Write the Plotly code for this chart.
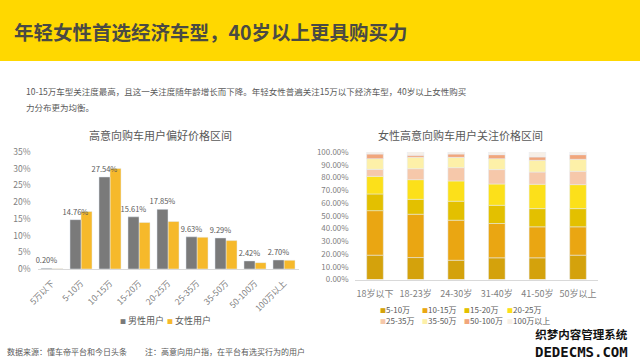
import numpy as np
import plotly.graph_objects as go

FONT = "Noto Sans CJK SC, Microsoft YaHei, sans-serif"
W, H = 640, 360

# ---------------- data ----------------
price_bins = ["5万以下", "5-10万", "10-15万", "15-20万", "20-25万",
              "25-35万", "35-50万", "50-100万", "100万以上"]
male_share = [0.20, 14.76, 27.54, 15.61, 17.85, 9.63, 9.29, 2.42, 2.70]
female_share = [0.10, 17.2, 30.1, 13.9, 14.2, 9.5, 8.5, 1.9, 2.6]
series_names = ["男性用户", "女性用户"]

age_groups = ["18岁以下", "18-23岁", "24-30岁", "31-40岁", "41-50岁", "50岁以上"]
seg_names = ["5-10万", "10-15万", "15-20万", "20-25万",
             "25-35万", "35-50万", "50-100万", "100万以上"]
seg_5_10 = [19.1, 17.2, 15.1, 17.0, 17.0, 19.1]
seg_10_15 = [34.9, 34.0, 31.4, 26.9, 24.3, 22.2]
seg_15_20 = [13.1, 11.7, 14.9, 14.3, 14.3, 14.3]
seg_20_25 = [13.8, 15.4, 15.9, 16.7, 19.1, 18.8]
seg_25_35 = [5.5, 8.6, 10.4, 11.3, 9.6, 10.5]
seg_35_50 = [8.4, 9.0, 8.1, 8.6, 9.2, 9.4]
seg_50_100 = [3.6, 1.5, 2.6, 3.1, 2.6, 3.6]
seg_100_up = [1.6, 2.6, 1.6, 2.1, 3.9, 2.1]

title_text = "年轻女性首选经济车型，40岁以上更具购买力"
sub_line1 = "10-15万车型关注度最高，且这一关注度随年龄增长而下降。年轻女性普遍关注15万以下经济车型，40岁以上女性购买"
sub_line2 = "力分布更为均衡。"
left_title = "高意向购车用户偏好价格区间"
right_title = "女性高意向购车用户关注价格区间"
source_note = "数据来源：懂车帝平台和今日头条"
def_note = "注：高意向用户指，在平台有选买行为的用户"
watermark_cn = "织梦内容管理系统"
watermark_en = "DEDECMS.COM"

# ---------------- styles ----------------
MALE_C = "#7a7a7a"
FEMALE_C = "#f6b92b"
SEG_COLORS = ["#d4a20c", "#eaa612", "#e3c000", "#fce01a",
              "#f6c8aa", "#fdf0a8", "#f1a67c", "#f7efe6"]
TICK_C = "#7f7f7f"
TXT_C = "#595959"


def px(x):
    return x / W


def py(y):
    return 1 - y / H


fig = go.Figure()

# left grouped bars (female drawn first so male value labels sit on top)
fig.add_trace(go.Bar(
    x=price_bins, y=female_share, name=series_names[1], marker_color=FEMALE_C,
    offset=0.0, width=0.38, xaxis="x", yaxis="y", showlegend=False,
))
fig.add_trace(go.Bar(
    x=price_bins, y=male_share, name=series_names[0], marker_color=MALE_C,
    offset=-0.38, width=0.38, xaxis="x", yaxis="y", showlegend=False,
    text=[f"{v:.2f}%" for v in male_share], textposition="outside",
    textfont=dict(size=7.5, color=TXT_C, family=FONT), constraintext="none",
    cliponaxis=False,
))

# right stacked bars
segments = [seg_5_10, seg_10_15, seg_15_20, seg_20_25,
            seg_25_35, seg_35_50, seg_50_100, seg_100_up]
base = np.zeros(len(age_groups))
for name, vals, col in zip(seg_names, segments, SEG_COLORS):
    fig.add_trace(go.Bar(
        x=age_groups, y=vals, base=base.copy(), name=name, marker_color=col,
        offset=-0.205, width=0.41, xaxis="x2", yaxis="y2", showlegend=False,
    ))
    base = base + np.array(vals)

annotations = []
shapes = []


def note(text, x, y, size, color=TXT_C, xanchor="left", family=FONT):
    annotations.append(dict(text=text, x=px(x), y=py(y), xref="paper",
                            yref="paper", xanchor=xanchor, yanchor="middle",
                            showarrow=False,
                            font=dict(size=size, color=color, family=family)))


# yellow title band
shapes.append(dict(type="rect", xref="paper", yref="paper", x0=0, x1=1,
                   y0=py(61), y1=1, fillcolor="#ffd800", line_width=0,
                   layer="below"))
note(f"<b>{title_text}</b>", 12, 31, 19.5, color="#4a4a44")
note(sub_line1, 24, 91, 8.5)
note(sub_line2, 24, 107, 8.5)
note(left_title, 160, 135, 11, xanchor="center")
note(right_title, 460, 135, 11, xanchor="center")
note(source_note, 5, 351, 8)
note(def_note, 143, 351, 8)

# legends (compact, as in the reference)
left_leg_x = [118, 165]
for name, col, lx in zip(series_names, [MALE_C, FEMALE_C], left_leg_x):
    note(f"<span style='color:{col};font-size:6px'>■</span> {name}", lx, 320, 9)

right_leg_x = [378, 420, 462, 505]
right_leg_y = [309, 320]
for i, (name, col) in enumerate(zip(seg_names, SEG_COLORS)):
    note(f"<span style='color:{col};font-size:6px'>■</span>{name}",
         right_leg_x[i % 4], right_leg_y[i // 4], 8)

# watermark (two lines in one text block)
note(f"<span style='font-size:11.5px'><b>{watermark_cn}</b></span><br>"
     f"<span style='font-family:DejaVu Sans Mono'><b>{watermark_en}</b></span>",
     581, 343, 14, color="#111111", xanchor="center")

fig.update_layout(
    width=W, height=H, autosize=False,
    margin=dict(l=0, r=0, t=0, b=0, pad=0, autoexpand=False),
    paper_bgcolor="white", plot_bgcolor="white",
    barmode="overlay", showlegend=False,
    font=dict(family=FONT, color=TXT_C),
    annotations=annotations, shapes=shapes,
    xaxis=dict(domain=[px(37.5), px(298.5)], anchor="y", type="category",
               tickangle=-45, tickfont=dict(size=8.5, color=TICK_C),
               showline=True, linecolor="#d9d9d9", linewidth=1, ticks="",
               ticklabelstandoff=5, showgrid=False, fixedrange=True,
               automargin=False),
    yaxis=dict(domain=[py(269), py(152)], anchor="x", range=[0, 35], dtick=5,
               ticksuffix="%", tickfont=dict(size=8.5, color=TICK_C),
               showgrid=False, zeroline=False, showline=False, ticks="",
               ticklabelstandoff=6, fixedrange=True, automargin=False),
    xaxis2=dict(domain=[px(354.7), px(598.3)], anchor="y2", type="category",
                tickfont=dict(size=9, color=TICK_C), showline=True,
                linecolor="#d9d9d9", linewidth=1, ticks="", showgrid=False,
                ticklabelstandoff=6, fixedrange=True, automargin=False),
    yaxis2=dict(domain=[py(279.5), py(152)], anchor="x2", range=[0, 100],
                dtick=10, tickformat=".2f", ticksuffix="%",
                tickfont=dict(size=8, color=TICK_C), showgrid=False,
                zeroline=False, showline=False, ticks="",
                ticklabelstandoff=5, fixedrange=True, automargin=False),
)

fig.write_html("out.html", config={"displayModeBar": False},
               post_script="document.body.style.margin='0px';"
                           "document.body.style.overflow='hidden';")
